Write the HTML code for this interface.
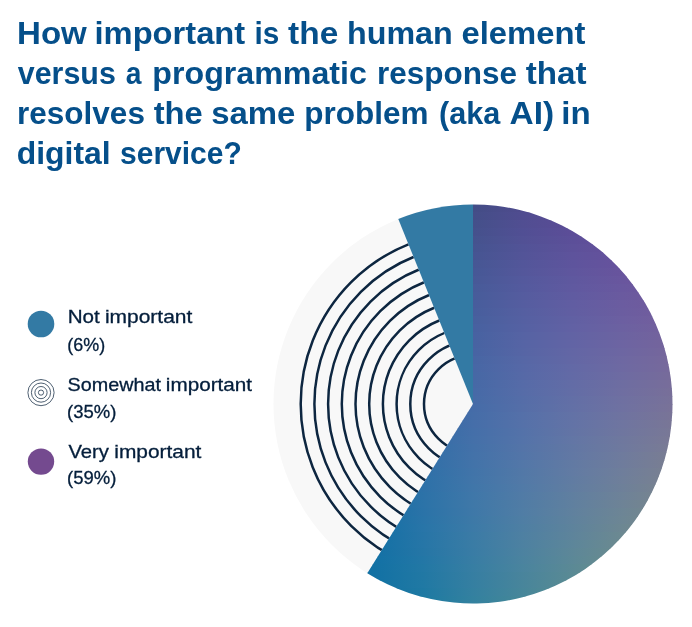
<!DOCTYPE html>
<html lang="en">
<head>
<meta charset="utf-8">
<title>How important is the human element</title>
<style>
html,body{margin:0;padding:0;background:#fff;}
body{width:692px;height:627px;overflow:hidden;position:relative;font-family:"Liberation Sans",sans-serif;}
svg{position:absolute;left:0;top:0;display:block;}
.t{font-family:"Liberation Sans",sans-serif;font-weight:700;font-size:31.4px;fill:#054f8a;}
.l{font-family:"Liberation Sans",sans-serif;font-weight:400;font-size:18.2px;fill:#041e3b;stroke:#041e3b;stroke-width:0.3px;}
</style>
</head>
<body>
<svg width="692" height="627" viewBox="0 0 692 627">
<defs>
<linearGradient id="s0" gradientUnits="userSpaceOnUse" x1="273" y1="0" x2="673" y2="0"><stop offset="0" stop-color="#1e5066"/><stop offset="0.25" stop-color="#25506d"/><stop offset="0.375" stop-color="#354f7b"/><stop offset="0.5" stop-color="#434d86"/><stop offset="0.625" stop-color="#4f4b8e"/><stop offset="0.75" stop-color="#594893"/><stop offset="0.875" stop-color="#614595"/><stop offset="1" stop-color="#674194"/></linearGradient>
<linearGradient id="s1" gradientUnits="userSpaceOnUse" x1="273" y1="0" x2="673" y2="0"><stop offset="0" stop-color="#1f5169"/><stop offset="0.25" stop-color="#265170"/><stop offset="0.375" stop-color="#36507d"/><stop offset="0.5" stop-color="#444e88"/><stop offset="0.625" stop-color="#504c90"/><stop offset="0.75" stop-color="#5a4a95"/><stop offset="0.875" stop-color="#624796"/><stop offset="1" stop-color="#684395"/></linearGradient>
<linearGradient id="s2" gradientUnits="userSpaceOnUse" x1="273" y1="0" x2="673" y2="0"><stop offset="0" stop-color="#1f526c"/><stop offset="0.25" stop-color="#265272"/><stop offset="0.375" stop-color="#365180"/><stop offset="0.5" stop-color="#44508a"/><stop offset="0.625" stop-color="#514e92"/><stop offset="0.75" stop-color="#5b4b96"/><stop offset="0.875" stop-color="#634998"/><stop offset="1" stop-color="#694696"/></linearGradient>
<linearGradient id="s3" gradientUnits="userSpaceOnUse" x1="273" y1="0" x2="673" y2="0"><stop offset="0" stop-color="#1f536f"/><stop offset="0.25" stop-color="#265375"/><stop offset="0.375" stop-color="#365282"/><stop offset="0.5" stop-color="#45518c"/><stop offset="0.625" stop-color="#514f94"/><stop offset="0.75" stop-color="#5c4d98"/><stop offset="0.875" stop-color="#644b99"/><stop offset="1" stop-color="#6a4897"/></linearGradient>
<linearGradient id="s4" gradientUnits="userSpaceOnUse" x1="273" y1="0" x2="673" y2="0"><stop offset="0" stop-color="#1f5472"/><stop offset="0.25" stop-color="#265478"/><stop offset="0.375" stop-color="#375485"/><stop offset="0.5" stop-color="#45538e"/><stop offset="0.625" stop-color="#525195"/><stop offset="0.75" stop-color="#5c4f99"/><stop offset="0.875" stop-color="#654d9a"/><stop offset="1" stop-color="#6b4a97"/></linearGradient>
<linearGradient id="s5" gradientUnits="userSpaceOnUse" x1="273" y1="0" x2="673" y2="0"><stop offset="0" stop-color="#1f5574"/><stop offset="0.25" stop-color="#26557a"/><stop offset="0.375" stop-color="#375587"/><stop offset="0.5" stop-color="#455490"/><stop offset="0.625" stop-color="#525397"/><stop offset="0.75" stop-color="#5d519a"/><stop offset="0.875" stop-color="#664f9b"/><stop offset="1" stop-color="#6c4c98"/></linearGradient>
<linearGradient id="s6" gradientUnits="userSpaceOnUse" x1="273" y1="0" x2="673" y2="0"><stop offset="0" stop-color="#1f5677"/><stop offset="0.25" stop-color="#26567c"/><stop offset="0.375" stop-color="#375689"/><stop offset="0.5" stop-color="#465592"/><stop offset="0.625" stop-color="#535498"/><stop offset="0.75" stop-color="#5e539c"/><stop offset="0.875" stop-color="#66509c"/><stop offset="1" stop-color="#6d4e99"/></linearGradient>
<linearGradient id="s7" gradientUnits="userSpaceOnUse" x1="273" y1="0" x2="673" y2="0"><stop offset="0" stop-color="#1f5779"/><stop offset="0.25" stop-color="#26577f"/><stop offset="0.375" stop-color="#37578b"/><stop offset="0.5" stop-color="#465794"/><stop offset="0.625" stop-color="#53569a"/><stop offset="0.75" stop-color="#5e549d"/><stop offset="0.875" stop-color="#67529d"/><stop offset="1" stop-color="#6e5099"/></linearGradient>
<linearGradient id="s8" gradientUnits="userSpaceOnUse" x1="273" y1="0" x2="673" y2="0"><stop offset="0" stop-color="#1e587c"/><stop offset="0.25" stop-color="#265881"/><stop offset="0.375" stop-color="#37588d"/><stop offset="0.5" stop-color="#465896"/><stop offset="0.625" stop-color="#54579b"/><stop offset="0.75" stop-color="#5f569e"/><stop offset="0.875" stop-color="#68549d"/><stop offset="1" stop-color="#6f529a"/></linearGradient>
<linearGradient id="s9" gradientUnits="userSpaceOnUse" x1="273" y1="0" x2="673" y2="0"><stop offset="0" stop-color="#1e597e"/><stop offset="0.25" stop-color="#265983"/><stop offset="0.375" stop-color="#37598f"/><stop offset="0.5" stop-color="#475997"/><stop offset="0.625" stop-color="#54599d"/><stop offset="0.75" stop-color="#5f589f"/><stop offset="0.875" stop-color="#69569e"/><stop offset="1" stop-color="#70549a"/></linearGradient>
<linearGradient id="s10" gradientUnits="userSpaceOnUse" x1="273" y1="0" x2="673" y2="0"><stop offset="0" stop-color="#1e5a80"/><stop offset="0.25" stop-color="#265a86"/><stop offset="0.375" stop-color="#375b91"/><stop offset="0.5" stop-color="#475b99"/><stop offset="0.625" stop-color="#545a9e"/><stop offset="0.75" stop-color="#6059a0"/><stop offset="0.875" stop-color="#69589f"/><stop offset="1" stop-color="#71569b"/></linearGradient>
<linearGradient id="s11" gradientUnits="userSpaceOnUse" x1="273" y1="0" x2="673" y2="0"><stop offset="0" stop-color="#1e5b82"/><stop offset="0.25" stop-color="#265b88"/><stop offset="0.375" stop-color="#375c92"/><stop offset="0.5" stop-color="#475c9a"/><stop offset="0.625" stop-color="#555c9f"/><stop offset="0.75" stop-color="#605ba1"/><stop offset="0.875" stop-color="#6a5a9f"/><stop offset="1" stop-color="#72589b"/></linearGradient>
<linearGradient id="s12" gradientUnits="userSpaceOnUse" x1="273" y1="0" x2="673" y2="0"><stop offset="0" stop-color="#1e5c85"/><stop offset="0.25" stop-color="#255c8a"/><stop offset="0.375" stop-color="#375d94"/><stop offset="0.5" stop-color="#475d9c"/><stop offset="0.625" stop-color="#555da0"/><stop offset="0.75" stop-color="#615da2"/><stop offset="0.875" stop-color="#6b5ca0"/><stop offset="1" stop-color="#725a9b"/></linearGradient>
<linearGradient id="s13" gradientUnits="userSpaceOnUse" x1="273" y1="0" x2="673" y2="0"><stop offset="0" stop-color="#1d5c87"/><stop offset="0.25" stop-color="#255d8c"/><stop offset="0.375" stop-color="#375e96"/><stop offset="0.5" stop-color="#475e9d"/><stop offset="0.625" stop-color="#555fa1"/><stop offset="0.75" stop-color="#615ea2"/><stop offset="0.875" stop-color="#6b5da0"/><stop offset="1" stop-color="#735c9c"/></linearGradient>
<linearGradient id="s14" gradientUnits="userSpaceOnUse" x1="273" y1="0" x2="673" y2="0"><stop offset="0" stop-color="#1d5d89"/><stop offset="0.25" stop-color="#255e8d"/><stop offset="0.375" stop-color="#375f97"/><stop offset="0.5" stop-color="#47609e"/><stop offset="0.625" stop-color="#5560a2"/><stop offset="0.75" stop-color="#6160a3"/><stop offset="0.875" stop-color="#6c5fa1"/><stop offset="1" stop-color="#745e9c"/></linearGradient>
<linearGradient id="s15" gradientUnits="userSpaceOnUse" x1="273" y1="0" x2="673" y2="0"><stop offset="0" stop-color="#1d5e8a"/><stop offset="0.25" stop-color="#255f8f"/><stop offset="0.375" stop-color="#376099"/><stop offset="0.5" stop-color="#4761a0"/><stop offset="0.625" stop-color="#5561a3"/><stop offset="0.75" stop-color="#6261a4"/><stop offset="0.875" stop-color="#6c61a1"/><stop offset="1" stop-color="#74609c"/></linearGradient>
<linearGradient id="s16" gradientUnits="userSpaceOnUse" x1="273" y1="0" x2="673" y2="0"><stop offset="0" stop-color="#1c5f8c"/><stop offset="0.25" stop-color="#246091"/><stop offset="0.375" stop-color="#37619a"/><stop offset="0.5" stop-color="#4762a1"/><stop offset="0.625" stop-color="#5663a4"/><stop offset="0.75" stop-color="#6263a4"/><stop offset="0.875" stop-color="#6c63a1"/><stop offset="1" stop-color="#75629c"/></linearGradient>
<linearGradient id="s17" gradientUnits="userSpaceOnUse" x1="273" y1="0" x2="673" y2="0"><stop offset="0" stop-color="#1c608e"/><stop offset="0.25" stop-color="#246093"/><stop offset="0.375" stop-color="#36629c"/><stop offset="0.5" stop-color="#4763a2"/><stop offset="0.625" stop-color="#5664a5"/><stop offset="0.75" stop-color="#6264a5"/><stop offset="0.875" stop-color="#6d64a2"/><stop offset="1" stop-color="#75649b"/></linearGradient>
<linearGradient id="s18" gradientUnits="userSpaceOnUse" x1="273" y1="0" x2="673" y2="0"><stop offset="0" stop-color="#1b6090"/><stop offset="0.25" stop-color="#236194"/><stop offset="0.375" stop-color="#36639d"/><stop offset="0.5" stop-color="#4764a3"/><stop offset="0.625" stop-color="#5665a5"/><stop offset="0.75" stop-color="#6366a5"/><stop offset="0.875" stop-color="#6d66a2"/><stop offset="1" stop-color="#76669b"/></linearGradient>
<linearGradient id="s19" gradientUnits="userSpaceOnUse" x1="273" y1="0" x2="673" y2="0"><stop offset="0" stop-color="#1b6191"/><stop offset="0.25" stop-color="#236296"/><stop offset="0.375" stop-color="#36649e"/><stop offset="0.5" stop-color="#4766a4"/><stop offset="0.625" stop-color="#5667a6"/><stop offset="0.75" stop-color="#6367a5"/><stop offset="0.875" stop-color="#6e68a2"/><stop offset="1" stop-color="#77689b"/></linearGradient>
<linearGradient id="s20" gradientUnits="userSpaceOnUse" x1="273" y1="0" x2="673" y2="0"><stop offset="0" stop-color="#1a6293"/><stop offset="0.25" stop-color="#236397"/><stop offset="0.375" stop-color="#36659f"/><stop offset="0.5" stop-color="#4767a5"/><stop offset="0.625" stop-color="#5668a7"/><stop offset="0.75" stop-color="#6369a6"/><stop offset="0.875" stop-color="#6e69a2"/><stop offset="1" stop-color="#77699b"/></linearGradient>
<linearGradient id="s21" gradientUnits="userSpaceOnUse" x1="273" y1="0" x2="673" y2="0"><stop offset="0" stop-color="#1a6294"/><stop offset="0.25" stop-color="#226499"/><stop offset="0.375" stop-color="#3566a0"/><stop offset="0.5" stop-color="#4668a5"/><stop offset="0.625" stop-color="#5669a7"/><stop offset="0.75" stop-color="#636aa6"/><stop offset="0.875" stop-color="#6e6ba2"/><stop offset="1" stop-color="#776b9a"/></linearGradient>
<linearGradient id="s22" gradientUnits="userSpaceOnUse" x1="273" y1="0" x2="673" y2="0"><stop offset="0" stop-color="#196396"/><stop offset="0.25" stop-color="#21649a"/><stop offset="0.375" stop-color="#3567a1"/><stop offset="0.5" stop-color="#4669a6"/><stop offset="0.625" stop-color="#566ba8"/><stop offset="0.75" stop-color="#636ca6"/><stop offset="0.875" stop-color="#6e6da1"/><stop offset="1" stop-color="#786d9a"/></linearGradient>
<linearGradient id="s23" gradientUnits="userSpaceOnUse" x1="273" y1="0" x2="673" y2="0"><stop offset="0" stop-color="#186497"/><stop offset="0.25" stop-color="#21659b"/><stop offset="0.375" stop-color="#3468a2"/><stop offset="0.5" stop-color="#466aa7"/><stop offset="0.625" stop-color="#566ca8"/><stop offset="0.75" stop-color="#636da6"/><stop offset="0.875" stop-color="#6f6ea1"/><stop offset="1" stop-color="#786f99"/></linearGradient>
<linearGradient id="s24" gradientUnits="userSpaceOnUse" x1="273" y1="0" x2="673" y2="0"><stop offset="0" stop-color="#186499"/><stop offset="0.25" stop-color="#20669c"/><stop offset="0.375" stop-color="#3469a3"/><stop offset="0.5" stop-color="#466ba7"/><stop offset="0.625" stop-color="#556da8"/><stop offset="0.75" stop-color="#636fa6"/><stop offset="0.875" stop-color="#6f70a1"/><stop offset="1" stop-color="#787199"/></linearGradient>
<linearGradient id="s25" gradientUnits="userSpaceOnUse" x1="273" y1="0" x2="673" y2="0"><stop offset="0" stop-color="#17659a"/><stop offset="0.25" stop-color="#20669d"/><stop offset="0.375" stop-color="#336aa4"/><stop offset="0.5" stop-color="#456ca8"/><stop offset="0.625" stop-color="#556ea8"/><stop offset="0.75" stop-color="#6370a6"/><stop offset="0.875" stop-color="#6f71a1"/><stop offset="1" stop-color="#797298"/></linearGradient>
<linearGradient id="s26" gradientUnits="userSpaceOnUse" x1="273" y1="0" x2="673" y2="0"><stop offset="0" stop-color="#16669b"/><stop offset="0.25" stop-color="#1f679e"/><stop offset="0.375" stop-color="#336aa5"/><stop offset="0.5" stop-color="#456da8"/><stop offset="0.625" stop-color="#5570a9"/><stop offset="0.75" stop-color="#6372a6"/><stop offset="0.875" stop-color="#6f73a0"/><stop offset="1" stop-color="#797497"/></linearGradient>
<linearGradient id="s27" gradientUnits="userSpaceOnUse" x1="273" y1="0" x2="673" y2="0"><stop offset="0" stop-color="#16669c"/><stop offset="0.25" stop-color="#1e689f"/><stop offset="0.375" stop-color="#326ba5"/><stop offset="0.5" stop-color="#456ea9"/><stop offset="0.625" stop-color="#5571a9"/><stop offset="0.75" stop-color="#6373a6"/><stop offset="0.875" stop-color="#6f75a0"/><stop offset="1" stop-color="#797696"/></linearGradient>
<linearGradient id="s28" gradientUnits="userSpaceOnUse" x1="273" y1="0" x2="673" y2="0"><stop offset="0" stop-color="#15679d"/><stop offset="0.25" stop-color="#1d68a0"/><stop offset="0.375" stop-color="#326ca6"/><stop offset="0.5" stop-color="#446fa9"/><stop offset="0.625" stop-color="#5472a9"/><stop offset="0.75" stop-color="#6374a5"/><stop offset="0.875" stop-color="#6f769f"/><stop offset="1" stop-color="#797896"/></linearGradient>
<linearGradient id="s29" gradientUnits="userSpaceOnUse" x1="273" y1="0" x2="673" y2="0"><stop offset="0" stop-color="#14679e"/><stop offset="0.25" stop-color="#1d69a1"/><stop offset="0.375" stop-color="#316da7"/><stop offset="0.5" stop-color="#4470a9"/><stop offset="0.625" stop-color="#5473a9"/><stop offset="0.75" stop-color="#6376a5"/><stop offset="0.875" stop-color="#6f789e"/><stop offset="1" stop-color="#7a7995"/></linearGradient>
<linearGradient id="s30" gradientUnits="userSpaceOnUse" x1="273" y1="0" x2="673" y2="0"><stop offset="0" stop-color="#13689f"/><stop offset="0.25" stop-color="#1c6aa2"/><stop offset="0.375" stop-color="#306ea7"/><stop offset="0.5" stop-color="#4371a9"/><stop offset="0.625" stop-color="#5474a8"/><stop offset="0.75" stop-color="#6277a4"/><stop offset="0.875" stop-color="#6f799e"/><stop offset="1" stop-color="#7a7b94"/></linearGradient>
<linearGradient id="s31" gradientUnits="userSpaceOnUse" x1="273" y1="0" x2="673" y2="0"><stop offset="0" stop-color="#1269a0"/><stop offset="0.25" stop-color="#1b6aa2"/><stop offset="0.375" stop-color="#306ea7"/><stop offset="0.5" stop-color="#4372a9"/><stop offset="0.625" stop-color="#5375a8"/><stop offset="0.75" stop-color="#6278a4"/><stop offset="0.875" stop-color="#6f7b9d"/><stop offset="1" stop-color="#7a7d92"/></linearGradient>
<linearGradient id="s32" gradientUnits="userSpaceOnUse" x1="273" y1="0" x2="673" y2="0"><stop offset="0" stop-color="#1269a0"/><stop offset="0.25" stop-color="#1a6ba3"/><stop offset="0.375" stop-color="#2f6fa8"/><stop offset="0.5" stop-color="#4273a9"/><stop offset="0.625" stop-color="#5377a8"/><stop offset="0.75" stop-color="#627aa3"/><stop offset="0.875" stop-color="#6f7c9c"/><stop offset="1" stop-color="#7a7e91"/></linearGradient>
<linearGradient id="s33" gradientUnits="userSpaceOnUse" x1="273" y1="0" x2="673" y2="0"><stop offset="0" stop-color="#126aa1"/><stop offset="0.25" stop-color="#196ba3"/><stop offset="0.375" stop-color="#2e70a8"/><stop offset="0.5" stop-color="#4174a9"/><stop offset="0.625" stop-color="#5278a7"/><stop offset="0.75" stop-color="#627ba3"/><stop offset="0.875" stop-color="#6f7e9b"/><stop offset="1" stop-color="#7a8090"/></linearGradient>
<linearGradient id="s34" gradientUnits="userSpaceOnUse" x1="273" y1="0" x2="673" y2="0"><stop offset="0" stop-color="#126aa1"/><stop offset="0.25" stop-color="#186ca4"/><stop offset="0.375" stop-color="#2d71a8"/><stop offset="0.5" stop-color="#4175a9"/><stop offset="0.625" stop-color="#5279a7"/><stop offset="0.75" stop-color="#617ca2"/><stop offset="0.875" stop-color="#6f7f9a"/><stop offset="1" stop-color="#7a818f"/></linearGradient>
<linearGradient id="s35" gradientUnits="userSpaceOnUse" x1="273" y1="0" x2="673" y2="0"><stop offset="0" stop-color="#126aa2"/><stop offset="0.25" stop-color="#176da4"/><stop offset="0.375" stop-color="#2d71a8"/><stop offset="0.5" stop-color="#4076a9"/><stop offset="0.625" stop-color="#517aa7"/><stop offset="0.75" stop-color="#617da1"/><stop offset="0.875" stop-color="#6e8099"/><stop offset="1" stop-color="#7a838d"/></linearGradient>
<linearGradient id="s36" gradientUnits="userSpaceOnUse" x1="273" y1="0" x2="673" y2="0"><stop offset="0" stop-color="#126ba2"/><stop offset="0.25" stop-color="#166da5"/><stop offset="0.375" stop-color="#2c72a8"/><stop offset="0.5" stop-color="#3f77a9"/><stop offset="0.625" stop-color="#517ba6"/><stop offset="0.75" stop-color="#607fa0"/><stop offset="0.875" stop-color="#6e8298"/><stop offset="1" stop-color="#7a858c"/></linearGradient>
<linearGradient id="s37" gradientUnits="userSpaceOnUse" x1="273" y1="0" x2="673" y2="0"><stop offset="0" stop-color="#126ba3"/><stop offset="0.25" stop-color="#156ea5"/><stop offset="0.375" stop-color="#2b73a8"/><stop offset="0.5" stop-color="#3f78a8"/><stop offset="0.625" stop-color="#507ca5"/><stop offset="0.75" stop-color="#60809f"/><stop offset="0.875" stop-color="#6e8396"/><stop offset="1" stop-color="#79868a"/></linearGradient>
<linearGradient id="s38" gradientUnits="userSpaceOnUse" x1="273" y1="0" x2="673" y2="0"><stop offset="0" stop-color="#126ca3"/><stop offset="0.25" stop-color="#146ea5"/><stop offset="0.375" stop-color="#2a73a8"/><stop offset="0.5" stop-color="#3e78a8"/><stop offset="0.625" stop-color="#507da5"/><stop offset="0.75" stop-color="#60819e"/><stop offset="0.875" stop-color="#6d8595"/><stop offset="1" stop-color="#798889"/></linearGradient>
<linearGradient id="s39" gradientUnits="userSpaceOnUse" x1="273" y1="0" x2="673" y2="0"><stop offset="0" stop-color="#126ca3"/><stop offset="0.25" stop-color="#136fa5"/><stop offset="0.375" stop-color="#2974a8"/><stop offset="0.5" stop-color="#3d79a7"/><stop offset="0.625" stop-color="#4f7ea4"/><stop offset="0.75" stop-color="#5f829d"/><stop offset="0.875" stop-color="#6d8694"/><stop offset="1" stop-color="#798987"/></linearGradient>
<linearGradient id="s40" gradientUnits="userSpaceOnUse" x1="273" y1="0" x2="673" y2="0"><stop offset="0" stop-color="#126da3"/><stop offset="0.25" stop-color="#126fa5"/><stop offset="0.375" stop-color="#2875a8"/><stop offset="0.5" stop-color="#3c7aa7"/><stop offset="0.625" stop-color="#4e7fa3"/><stop offset="0.75" stop-color="#5e839c"/><stop offset="0.875" stop-color="#6d8792"/><stop offset="1" stop-color="#798b85"/></linearGradient>
<linearGradient id="s41" gradientUnits="userSpaceOnUse" x1="273" y1="0" x2="673" y2="0"><stop offset="0" stop-color="#126da4"/><stop offset="0.25" stop-color="#126fa5"/><stop offset="0.375" stop-color="#2775a7"/><stop offset="0.5" stop-color="#3b7ba6"/><stop offset="0.625" stop-color="#4e80a2"/><stop offset="0.75" stop-color="#5e849b"/><stop offset="0.875" stop-color="#6c8991"/><stop offset="1" stop-color="#798c84"/></linearGradient>
<linearGradient id="s42" gradientUnits="userSpaceOnUse" x1="273" y1="0" x2="673" y2="0"><stop offset="0" stop-color="#126da4"/><stop offset="0.25" stop-color="#1270a5"/><stop offset="0.375" stop-color="#2676a7"/><stop offset="0.5" stop-color="#3a7ca5"/><stop offset="0.625" stop-color="#4d81a1"/><stop offset="0.75" stop-color="#5d869a"/><stop offset="0.875" stop-color="#6c8a8f"/><stop offset="1" stop-color="#788e82"/></linearGradient>
<linearGradient id="s43" gradientUnits="userSpaceOnUse" x1="273" y1="0" x2="673" y2="0"><stop offset="0" stop-color="#126ea3"/><stop offset="0.25" stop-color="#1270a5"/><stop offset="0.375" stop-color="#2576a6"/><stop offset="0.5" stop-color="#397ca5"/><stop offset="0.625" stop-color="#4c82a0"/><stop offset="0.75" stop-color="#5d8798"/><stop offset="0.875" stop-color="#6b8b8e"/><stop offset="1" stop-color="#788f80"/></linearGradient>
<linearGradient id="s44" gradientUnits="userSpaceOnUse" x1="273" y1="0" x2="673" y2="0"><stop offset="0" stop-color="#126ea3"/><stop offset="0.25" stop-color="#1271a5"/><stop offset="0.375" stop-color="#2377a6"/><stop offset="0.5" stop-color="#387da4"/><stop offset="0.625" stop-color="#4b839f"/><stop offset="0.75" stop-color="#5c8897"/><stop offset="0.875" stop-color="#6b8c8c"/><stop offset="1" stop-color="#78917e"/></linearGradient>
<linearGradient id="s45" gradientUnits="userSpaceOnUse" x1="273" y1="0" x2="673" y2="0"><stop offset="0" stop-color="#126ea3"/><stop offset="0.25" stop-color="#1271a4"/><stop offset="0.375" stop-color="#2278a5"/><stop offset="0.5" stop-color="#377ea3"/><stop offset="0.625" stop-color="#4a849e"/><stop offset="0.75" stop-color="#5b8995"/><stop offset="0.875" stop-color="#6a8e8a"/><stop offset="1" stop-color="#77927c"/></linearGradient>
<linearGradient id="s46" gradientUnits="userSpaceOnUse" x1="273" y1="0" x2="673" y2="0"><stop offset="0" stop-color="#126ea3"/><stop offset="0.25" stop-color="#1271a4"/><stop offset="0.375" stop-color="#2178a4"/><stop offset="0.5" stop-color="#367ea2"/><stop offset="0.625" stop-color="#49849c"/><stop offset="0.75" stop-color="#5a8a94"/><stop offset="0.875" stop-color="#6a8f88"/><stop offset="1" stop-color="#779379"/></linearGradient>
<linearGradient id="s47" gradientUnits="userSpaceOnUse" x1="273" y1="0" x2="673" y2="0"><stop offset="0" stop-color="#126fa3"/><stop offset="0.25" stop-color="#1272a3"/><stop offset="0.375" stop-color="#2079a4"/><stop offset="0.5" stop-color="#357fa1"/><stop offset="0.625" stop-color="#48859b"/><stop offset="0.75" stop-color="#5a8b92"/><stop offset="0.875" stop-color="#699086"/><stop offset="1" stop-color="#769577"/></linearGradient>
<linearGradient id="s48" gradientUnits="userSpaceOnUse" x1="273" y1="0" x2="673" y2="0"><stop offset="0" stop-color="#126fa2"/><stop offset="0.25" stop-color="#1272a3"/><stop offset="0.375" stop-color="#1e79a3"/><stop offset="0.5" stop-color="#3480a0"/><stop offset="0.625" stop-color="#47869a"/><stop offset="0.75" stop-color="#598c90"/><stop offset="0.875" stop-color="#689184"/><stop offset="1" stop-color="#769675"/></linearGradient>
<linearGradient id="s49" gradientUnits="userSpaceOnUse" x1="273" y1="0" x2="673" y2="0"><stop offset="0" stop-color="#126fa2"/><stop offset="0.25" stop-color="#1272a2"/><stop offset="0.375" stop-color="#1d7aa2"/><stop offset="0.5" stop-color="#33819f"/><stop offset="0.625" stop-color="#468798"/><stop offset="0.75" stop-color="#588d8f"/><stop offset="0.875" stop-color="#689382"/><stop offset="1" stop-color="#759873"/></linearGradient>
<clipPath id="cBig"><path d="M473 404L473.00 204.50A199.5 199.5 0 1 1 367.28 573.19Z"/></clipPath>
<clipPath id="cRing"><path d="M473 404L367.28 573.19A199.5 199.5 0 0 1 398.27 219.03Z"/></clipPath>
</defs>
<circle cx="473" cy="404" r="199.5" fill="#f8f8f8"/>
<g clip-path="url(#cRing)" fill="none" stroke="#0d2640" stroke-width="2.5">
<circle cx="473" cy="404" r="49.0"/><circle cx="473" cy="404" r="62.7"/><circle cx="473" cy="404" r="76.4"/><circle cx="473" cy="404" r="90.1"/><circle cx="473" cy="404" r="103.8"/><circle cx="473" cy="404" r="117.5"/><circle cx="473" cy="404" r="131.2"/><circle cx="473" cy="404" r="144.9"/><circle cx="473" cy="404" r="158.6"/><circle cx="473" cy="404" r="172.3"/>
</g>
<path d="M473 404L398.27 219.03A199.5 199.5 0 0 1 473.00 204.50Z" fill="#337aa4"/>
<g clip-path="url(#cBig)">
<rect x="273" y="204" width="400" height="8.6" fill="url(#s0)"/>
<rect x="273" y="212" width="400" height="8.6" fill="url(#s1)"/>
<rect x="273" y="220" width="400" height="8.6" fill="url(#s2)"/>
<rect x="273" y="228" width="400" height="8.6" fill="url(#s3)"/>
<rect x="273" y="236" width="400" height="8.6" fill="url(#s4)"/>
<rect x="273" y="244" width="400" height="8.6" fill="url(#s5)"/>
<rect x="273" y="252" width="400" height="8.6" fill="url(#s6)"/>
<rect x="273" y="260" width="400" height="8.6" fill="url(#s7)"/>
<rect x="273" y="268" width="400" height="8.6" fill="url(#s8)"/>
<rect x="273" y="276" width="400" height="8.6" fill="url(#s9)"/>
<rect x="273" y="284" width="400" height="8.6" fill="url(#s10)"/>
<rect x="273" y="292" width="400" height="8.6" fill="url(#s11)"/>
<rect x="273" y="300" width="400" height="8.6" fill="url(#s12)"/>
<rect x="273" y="308" width="400" height="8.6" fill="url(#s13)"/>
<rect x="273" y="316" width="400" height="8.6" fill="url(#s14)"/>
<rect x="273" y="324" width="400" height="8.6" fill="url(#s15)"/>
<rect x="273" y="332" width="400" height="8.6" fill="url(#s16)"/>
<rect x="273" y="340" width="400" height="8.6" fill="url(#s17)"/>
<rect x="273" y="348" width="400" height="8.6" fill="url(#s18)"/>
<rect x="273" y="356" width="400" height="8.6" fill="url(#s19)"/>
<rect x="273" y="364" width="400" height="8.6" fill="url(#s20)"/>
<rect x="273" y="372" width="400" height="8.6" fill="url(#s21)"/>
<rect x="273" y="380" width="400" height="8.6" fill="url(#s22)"/>
<rect x="273" y="388" width="400" height="8.6" fill="url(#s23)"/>
<rect x="273" y="396" width="400" height="8.6" fill="url(#s24)"/>
<rect x="273" y="404" width="400" height="8.6" fill="url(#s25)"/>
<rect x="273" y="412" width="400" height="8.6" fill="url(#s26)"/>
<rect x="273" y="420" width="400" height="8.6" fill="url(#s27)"/>
<rect x="273" y="428" width="400" height="8.6" fill="url(#s28)"/>
<rect x="273" y="436" width="400" height="8.6" fill="url(#s29)"/>
<rect x="273" y="444" width="400" height="8.6" fill="url(#s30)"/>
<rect x="273" y="452" width="400" height="8.6" fill="url(#s31)"/>
<rect x="273" y="460" width="400" height="8.6" fill="url(#s32)"/>
<rect x="273" y="468" width="400" height="8.6" fill="url(#s33)"/>
<rect x="273" y="476" width="400" height="8.6" fill="url(#s34)"/>
<rect x="273" y="484" width="400" height="8.6" fill="url(#s35)"/>
<rect x="273" y="492" width="400" height="8.6" fill="url(#s36)"/>
<rect x="273" y="500" width="400" height="8.6" fill="url(#s37)"/>
<rect x="273" y="508" width="400" height="8.6" fill="url(#s38)"/>
<rect x="273" y="516" width="400" height="8.6" fill="url(#s39)"/>
<rect x="273" y="524" width="400" height="8.6" fill="url(#s40)"/>
<rect x="273" y="532" width="400" height="8.6" fill="url(#s41)"/>
<rect x="273" y="540" width="400" height="8.6" fill="url(#s42)"/>
<rect x="273" y="548" width="400" height="8.6" fill="url(#s43)"/>
<rect x="273" y="556" width="400" height="8.6" fill="url(#s44)"/>
<rect x="273" y="564" width="400" height="8.6" fill="url(#s45)"/>
<rect x="273" y="572" width="400" height="8.6" fill="url(#s46)"/>
<rect x="273" y="580" width="400" height="8.6" fill="url(#s47)"/>
<rect x="273" y="588" width="400" height="8.6" fill="url(#s48)"/>
<rect x="273" y="596" width="400" height="8.6" fill="url(#s49)"/>
</g>
<circle cx="41" cy="324" r="13.3" fill="#337aa4"/>
<g fill="#fff" stroke="#22374e" stroke-width="0.8">
<circle cx="41" cy="392.6" r="13.1"/><circle cx="41" cy="392.6" r="9.6"/><circle cx="41" cy="392.6" r="6.1"/><circle cx="41" cy="392.6" r="2.6"/>
</g>
<circle cx="41" cy="461.6" r="13.2" fill="#744a8f"/>
<text class="t" y="43.9"><tspan x="17.06" textLength="69.75" lengthAdjust="spacingAndGlyphs">How</tspan> <tspan x="94.53" textLength="150.68" lengthAdjust="spacingAndGlyphs">important</tspan> <tspan x="254.52" textLength="24.81" lengthAdjust="spacingAndGlyphs">is</tspan> <tspan x="288.12" textLength="50.12" lengthAdjust="spacingAndGlyphs">the</tspan> <tspan x="346.99" textLength="105.72" lengthAdjust="spacingAndGlyphs">human</tspan> <tspan x="461.53" textLength="123.94" lengthAdjust="spacingAndGlyphs">element</tspan></text>
<text class="t" y="83.9"><tspan x="17.75" textLength="98.11" lengthAdjust="spacingAndGlyphs">versus</tspan> <tspan x="125.68" textLength="15.70" lengthAdjust="spacingAndGlyphs">a</tspan> <tspan x="152.37" textLength="214.45" lengthAdjust="spacingAndGlyphs">programmatic</tspan> <tspan x="376.99" textLength="140.02" lengthAdjust="spacingAndGlyphs">response</tspan> <tspan x="525.71" textLength="60.79" lengthAdjust="spacingAndGlyphs">that</tspan></text>
<text class="t" y="123.9"><tspan x="16.98" textLength="127.95" lengthAdjust="spacingAndGlyphs">resolves</tspan> <tspan x="153.69" textLength="49.17" lengthAdjust="spacingAndGlyphs">the</tspan> <tspan x="211.21" textLength="84.18" lengthAdjust="spacingAndGlyphs">same</tspan> <tspan x="304.24" textLength="124.26" lengthAdjust="spacingAndGlyphs">problem</tspan> <tspan x="438.99" textLength="61.32" lengthAdjust="spacingAndGlyphs">(aka</tspan> <tspan x="509.58" textLength="44.59" lengthAdjust="spacingAndGlyphs">AI)</tspan> <tspan x="561.27" textLength="29.38" lengthAdjust="spacingAndGlyphs">in</tspan></text>
<text class="t" y="163.9"><tspan x="16.73" textLength="93.88" lengthAdjust="spacingAndGlyphs">digital</tspan> <tspan x="120.02" textLength="121.75" lengthAdjust="spacingAndGlyphs">service?</tspan></text>
<text class="l" y="323.3"><tspan x="67.69" textLength="32.07" lengthAdjust="spacingAndGlyphs">Not</tspan> <tspan x="104.96" textLength="87.36" lengthAdjust="spacingAndGlyphs">important</tspan></text>
<text class="l" y="350.5"><tspan x="67.22" textLength="37.91" lengthAdjust="spacingAndGlyphs">(6%)</tspan></text>
<text class="l" y="390.9"><tspan x="67.54" textLength="93.37" lengthAdjust="spacingAndGlyphs">Somewhat</tspan> <tspan x="165.88" textLength="86.16" lengthAdjust="spacingAndGlyphs">important</tspan></text>
<text class="l" y="417.7"><tspan x="67.04" textLength="49.37" lengthAdjust="spacingAndGlyphs">(35%)</tspan></text>
<text class="l" y="457.8"><tspan x="68.42" textLength="40.55" lengthAdjust="spacingAndGlyphs">Very</tspan> <tspan x="114.33" textLength="87.07" lengthAdjust="spacingAndGlyphs">important</tspan></text>
<text class="l" y="484.3"><tspan x="67.04" textLength="49.37" lengthAdjust="spacingAndGlyphs">(59%)</tspan></text>
</svg>
</body>
</html>
